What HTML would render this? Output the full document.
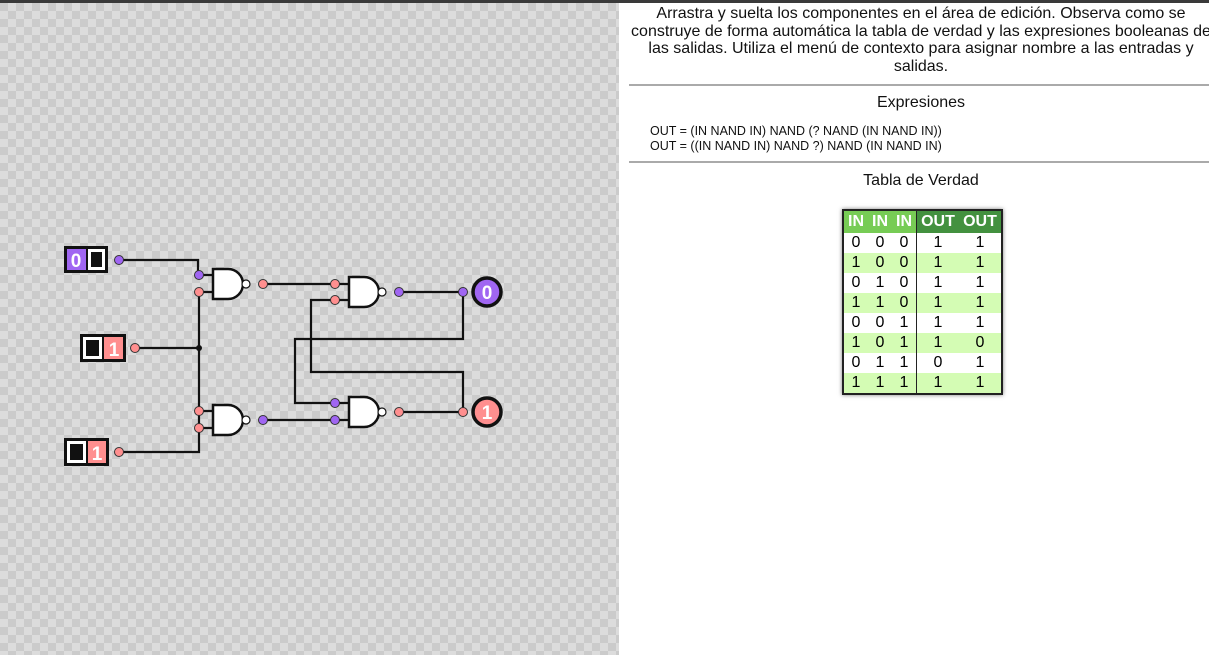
<!DOCTYPE html>
<html><head><meta charset="utf-8"><style>
html,body{margin:0;padding:0;width:1209px;height:655px;overflow:hidden;background:#fff;font-family:"Liberation Sans",Arial,sans-serif;}
#top{position:absolute;left:0;top:0;width:1209px;height:3px;background:#3a3a3a;}
#left{position:absolute;left:0;top:3px;width:619px;height:652px;
background-color:#dcdcdc;
background-image:linear-gradient(45deg,#cbcbcb 25%,transparent 25%,transparent 75%,#cbcbcb 75%),linear-gradient(45deg,#cbcbcb 25%,transparent 25%,transparent 75%,#cbcbcb 75%);
background-size:16px 16px;background-position:8px 0,0 8px;}
#right{position:absolute;left:629px;top:5px;width:584px;}
.intro{text-align:center;font-size:16px;line-height:17.5px;color:#111;margin:0;}
hr{border:0;border-top:2px solid #aaa;margin:0;position:absolute;left:0;width:580px;}
.h{position:absolute;left:0;width:584px;text-align:center;font-size:16px;color:#111;}
.ex{position:absolute;left:21px;font-size:12.5px;color:#111;line-height:15px;}
table{position:absolute;left:842px;top:209px;border-collapse:collapse;border:2px solid #222;box-shadow:0 0 4px rgba(0,0,0,.5);font-size:16px;font-family:"Liberation Sans",Arial,sans-serif;}
td,th{padding:0;height:20px;text-align:center;}
th{height:22px;color:#fff;font-weight:bold;}
tr:nth-child(odd) td{background:#d4fcb4;}
</style></head><body>
<div id="top"></div>
<div id="left">
<svg width="619" height="652" viewBox="0 3 619 652" style="position:absolute;left:0;top:0">
<g stroke="#111" stroke-width="2.2" fill="none">
<path d="M119 260H198V275"/>
<path d="M135 348H199"/>
<path d="M199 292V428"/>
<path d="M119 452H199V428"/>
<path d="M263 284H335"/>
<path d="M263 420H335"/>
<path d="M399 292H463"/>
<path d="M399 412H463"/>
<path d="M335 300H311V372H463V412"/>
<path d="M463 292V339H295V403H335"/>
<path d="M199 275H213M199 292H213M199 411H213M199 428H213"/>
<path d="M335 284H349M335 300H349M335 403H349M335 420H349"/>
</g>
<circle cx="199" cy="348" r="3" fill="#111"/>
<g stroke="#111" stroke-width="2.5" fill="#fff">
<path d="M213 269H228A15 15 0 0 1 228 299H213Z"/>
<path d="M213 405H228A15 15 0 0 1 228 435H213Z"/>
<path d="M349 277H364A15 15 0 0 1 364 307H349Z"/>
<path d="M349 397H364A15 15 0 0 1 364 427H349Z"/>
</g>
<g stroke="#111" stroke-width="1.2" fill="#fff">
<circle cx="246" cy="284" r="4"/><circle cx="246" cy="420" r="4"/>
<circle cx="382" cy="292" r="4"/><circle cx="382" cy="412" r="4"/>
</g>
<g stroke="#333" stroke-width="1">
<g fill="#a066f2">
<circle cx="119" cy="260" r="4.5"/><circle cx="199" cy="275" r="4.5"/>
<circle cx="263" cy="420" r="4.5"/><circle cx="399" cy="292" r="4.5"/><circle cx="463" cy="292" r="4.5"/>
<circle cx="335" cy="403" r="4.5"/><circle cx="335" cy="420" r="4.5"/>
</g>
<g fill="#ff8f8f">
<circle cx="135" cy="348" r="4.5"/><circle cx="119" cy="452" r="4.5"/>
<circle cx="199" cy="292" r="4.5"/><circle cx="199" cy="411" r="4.5"/><circle cx="199" cy="428" r="4.5"/>
<circle cx="263" cy="284" r="4.5"/><circle cx="335" cy="284" r="4.5"/><circle cx="335" cy="300" r="4.5"/>
<circle cx="399" cy="412" r="4.5"/><circle cx="463" cy="412" r="4.5"/>
</g>
</g>
<rect x="64" y="246" width="44" height="27" fill="#111"/>
<rect x="67" y="249" width="19" height="21" fill="#a066f2"/>
<rect x="88" y="249" width="17" height="21" fill="#fff"/><rect x="91" y="252" width="11" height="15" fill="#111"/>
<text x="76" y="267" font-size="19" font-weight="bold" fill="#fff" text-anchor="middle" font-family="Liberation Sans, Arial, sans-serif">0</text>

<rect x="80" y="334" width="46" height="28" fill="#111"/>
<rect x="83" y="337" width="19" height="22" fill="#fff"/><rect x="86" y="340" width="13" height="16" fill="#111"/>
<rect x="104" y="337" width="19" height="22" fill="#ff8f8f"/>
<text x="114" y="356" font-size="19" font-weight="bold" fill="#fff" text-anchor="middle" font-family="Liberation Sans, Arial, sans-serif">1</text>

<rect x="64" y="438" width="45" height="28" fill="#111"/>
<rect x="67" y="441" width="19" height="22" fill="#fff"/><rect x="70" y="444" width="13" height="16" fill="#111"/>
<rect x="88" y="441" width="18" height="22" fill="#ff8f8f"/>
<text x="97" y="460" font-size="19" font-weight="bold" fill="#fff" text-anchor="middle" font-family="Liberation Sans, Arial, sans-serif">1</text>
<circle cx="487" cy="292" r="14" fill="#a066f2" stroke="#111" stroke-width="3.5"/>
<text x="487" y="299" font-size="19" font-weight="bold" fill="#fff" text-anchor="middle" font-family="Liberation Sans, Arial, sans-serif">0</text>
<circle cx="487" cy="412" r="14" fill="#ff8f8f" stroke="#111" stroke-width="3.5"/>
<text x="487" y="419" font-size="19" font-weight="bold" fill="#fff" text-anchor="middle" font-family="Liberation Sans, Arial, sans-serif">1</text>
</svg>
</div>
<div id="right">
<p class="intro">Arrastra y suelta los componentes en el área de edición. Observa como se construye de forma automática la tabla de verdad y las expresiones booleanas de las salidas. Utiliza el menú de contexto para asignar nombre a las entradas y salidas.</p>
<hr style="top:79px">
<div class="h" style="top:89px">Expresiones</div>
<div class="ex" style="top:119px">OUT = (IN NAND IN) NAND (? NAND (IN NAND IN))<br>OUT = ((IN NAND IN) NAND ?) NAND (IN NAND IN)</div>
<hr style="top:156px">
<div class="h" style="top:167px">Tabla de Verdad</div>
</div>
<table>
<tr><th style="background:#77cc55;width:24px">IN</th><th style="background:#77cc55;width:24px">IN</th><th style="background:#77cc55;width:24px">IN</th><th style="background:#43913f;width:42px;border-left:1.5px solid #222">OUT</th><th style="background:#43913f;width:42px">OUT</th></tr>
<tr><td>0</td><td>0</td><td>0</td><td style="border-left:1.5px solid #222">1</td><td>1</td></tr>
<tr><td>1</td><td>0</td><td>0</td><td style="border-left:1.5px solid #222">1</td><td>1</td></tr>
<tr><td>0</td><td>1</td><td>0</td><td style="border-left:1.5px solid #222">1</td><td>1</td></tr>
<tr><td>1</td><td>1</td><td>0</td><td style="border-left:1.5px solid #222">1</td><td>1</td></tr>
<tr><td>0</td><td>0</td><td>1</td><td style="border-left:1.5px solid #222">1</td><td>1</td></tr>
<tr><td>1</td><td>0</td><td>1</td><td style="border-left:1.5px solid #222">1</td><td>0</td></tr>
<tr><td>0</td><td>1</td><td>1</td><td style="border-left:1.5px solid #222">0</td><td>1</td></tr>
<tr><td>1</td><td>1</td><td>1</td><td style="border-left:1.5px solid #222">1</td><td>1</td></tr>
</table>
</body></html>
